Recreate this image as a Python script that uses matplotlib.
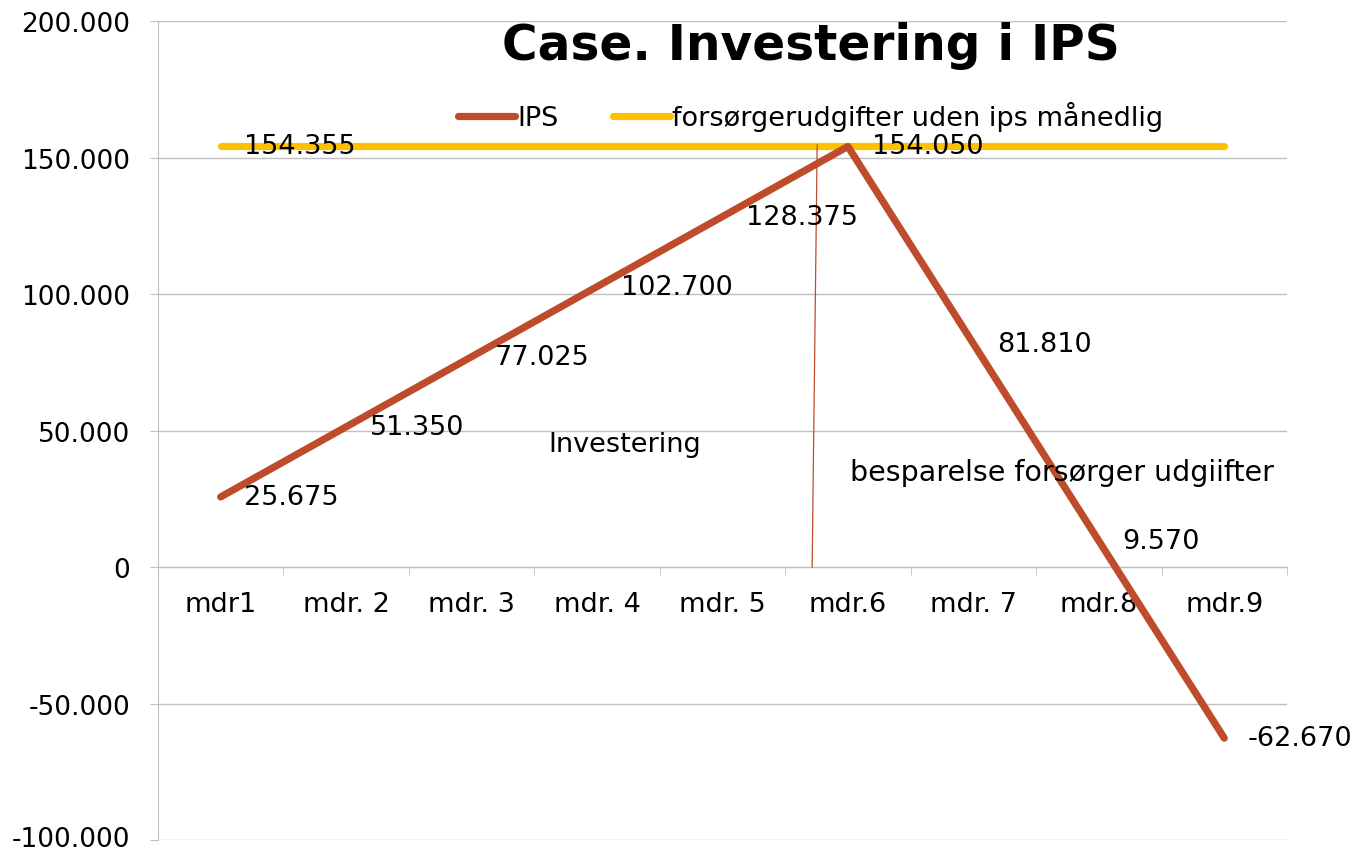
import numpy as np
import matplotlib
matplotlib.use("Agg")
import matplotlib.pyplot as plt
import matplotlib.transforms as mtransforms
from matplotlib.ticker import FuncFormatter, FixedLocator

# ── Data ─────────────────────────────────────────────────────────────────
maaneder = ["mdr1", "mdr. 2", "mdr. 3", "mdr. 4", "mdr. 5",
            "mdr.6", "mdr. 7", "mdr.8", "mdr.9"]
ips = [25675, 51350, 77025, 102700, 128375, 154050, 81810, 9570, -62670]
forsoerger = [154355] * 9

rod = "#BE4B2A"
gul = "#FFC000"
graa = "#BFBFBF"
fs = 19.5

plt.rcParams['font.family'] = ['DejaVu Sans']

fig = plt.figure(figsize=(13.58, 8.54), dpi=100)
ax = fig.add_axes([0.1163, 0.0152, 0.8314, 0.959])

x = np.arange(len(maaneder))
ax.plot(x, ips, color=rod, lw=5.2, solid_capstyle='round', label="IPS", zorder=3)
ax.plot(x, forsoerger, color=gul, lw=5.2, solid_capstyle='round',
        label="forsørgerudgifter uden ips månedlig", zorder=2)

# data labels
fmt = lambda v: "0" if v == 0 else f"{v:,.0f}".replace(",", ".")
for xi, v in zip(x, ips):
    ax.annotate(fmt(v), (xi, v), xytext=(17, 0), textcoords='offset points',
                va='center', ha='left', fontsize=fs, zorder=5)
ax.annotate(fmt(forsoerger[0]), (x[0], forsoerger[0]), xytext=(17, 0),
            textcoords='offset points', va='center', ha='left', fontsize=fs, zorder=5)

# tynd skillelinje og tekster
ax.plot([4.715, 4.755], [0, 154600], color=rod, lw=0.9, zorder=4)
ax.text(3.22, 45000, "Investering", ha='center', va='center', fontsize=fs)
ax.text(6.705, 34800, "besparelse forsørger udgiifter", ha='center', va='center',
        fontsize=20.5)

ax.set_xlim(-0.5, 8.5)
ax.set_ylim(-100000, 200000)
ax.set_yticks(np.arange(-100000, 200001, 50000))
ax.yaxis.set_major_formatter(FuncFormatter(lambda v, p: fmt(v)))
ax.grid(axis='y', color=graa, lw=1)
ax.set_axisbelow(True)

ax.set_xticks(x)
ax.set_xticklabels(maaneder)
ax.xaxis.set_minor_locator(FixedLocator(np.arange(-0.5, 9, 1)))
ax.tick_params(axis='x', which='major', length=0, pad=17, labelsize=fs)
ax.tick_params(axis='x', which='minor', length=6, color=graa, direction='out')
ax.tick_params(axis='y', length=6, color=graa, labelsize=19, pad=14)

# nederste etiket lidt op, så den ikke klippes
fig.canvas.draw()
nederst = ax.get_yticklabels()[0]
nederst.set_transform(nederst.get_transform() +
                      mtransforms.ScaledTranslation(0, 3 / 72, fig.dpi_scale_trans))

for s in ['top', 'right']:
    ax.spines[s].set_visible(False)
ax.spines['bottom'].set_position(('data', 0))
ax.spines['bottom'].set_color(graa)
ax.spines['left'].set_color(graa)

ax.set_title("Case. Investering i IPS", fontsize=35, fontweight='bold',
             x=0.578, y=0.96, va='center')

ax.legend(loc='center', bbox_to_anchor=(0.578, 0.884), ncol=2, frameon=False,
          fontsize=fs, handlelength=2.1, handletextpad=0.1, columnspacing=2.0)

plt.savefig("out.png", dpi=100)
